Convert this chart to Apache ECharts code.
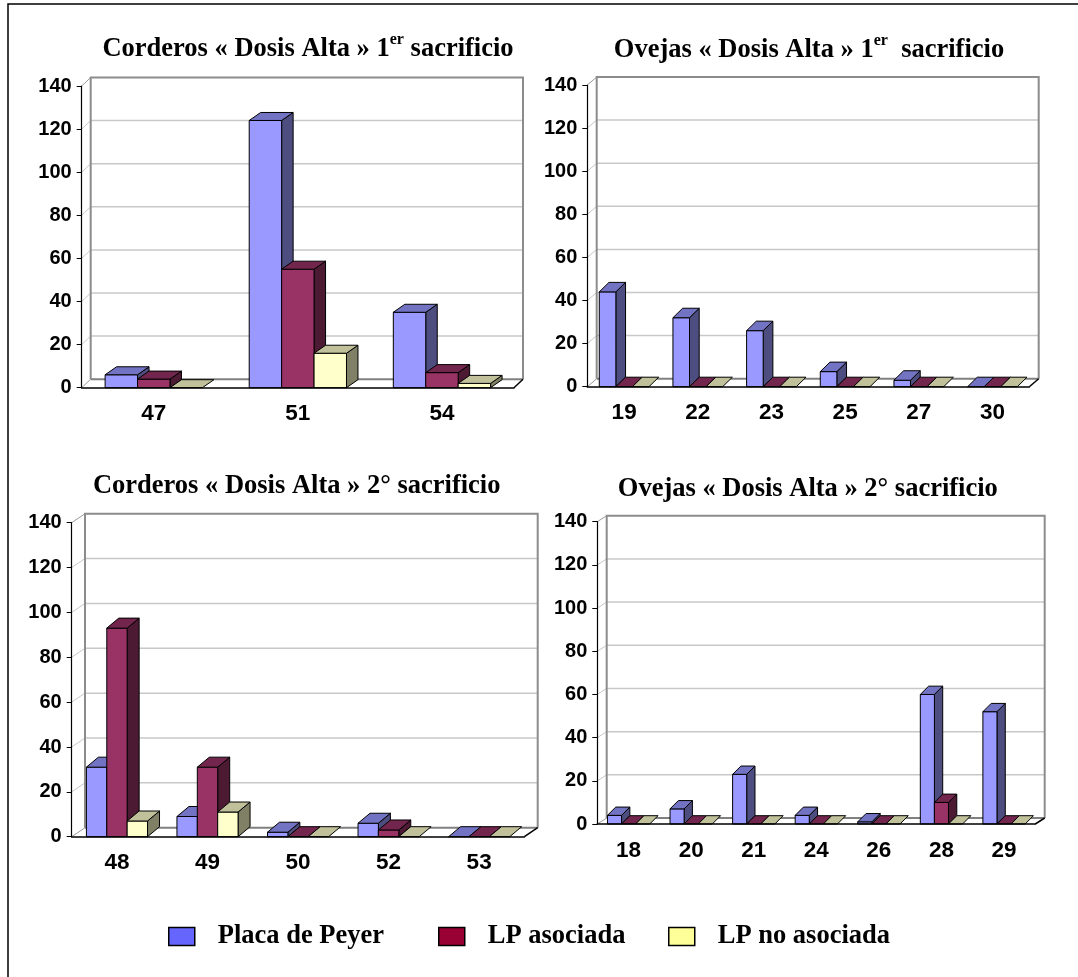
<!DOCTYPE html>
<html>
<head>
<meta charset="utf-8">
<script src="https://cdn.jsdelivr.net/npm/echarts@6/dist/echarts.min.js"></script>
<style>
  html, body { margin: 0; padding: 0; background: #fff; }
  #chart { width: 1078px; height: 977px; }
</style>
</head>
<body>
<div id="chart"></div>
<script>
// ---- data ----
const seriesNames = ['Placa de Peyer', 'LP asociada', 'LP no asociada'];

// Corderos « Dosis Alta » 1er sacrificio
const cordA1Cats = ['47', '51', '54'];
const cordA1Peyer = [6, 124, 35];
const cordA1LpAsoc = [4, 55, 7];
const cordA1LpNoAsoc = [0, 16, 2];

// Ovejas « Dosis Alta » 1er sacrificio
const ovejA1Cats = ['19', '22', '23', '25', '27', '30'];
const ovejA1Peyer = [44, 32, 26, 7, 3, 0];
const ovejA1LpAsoc = [0, 0, 0, 0, 0, 0];
const ovejA1LpNoAsoc = [0, 0, 0, 0, 0, 0];

// Corderos « Dosis Alta » 2° sacrificio
const cordA2Cats = ['48', '49', '50', '52', '53'];
const cordA2Peyer = [31, 9, 2, 6, 0];
const cordA2LpAsoc = [93, 31, 0, 3, 0];
const cordA2LpNoAsoc = [7, 11, 0, 0, 0];

// Ovejas « Dosis Alta » 2° sacrificio
const ovejA2Cats = ['18', '20', '21', '24', '26', '28', '29'];
const ovejA2Peyer = [4, 7, 23, 4, 1, 60, 52];
const ovejA2LpAsoc = [0, 0, 0, 0, 0, 10, 0];
const ovejA2LpNoAsoc = [0, 0, 0, 0, 0, 0, 0];

// value axis (shared by all four panels)
const yMin = 0, yMax = 140, yStep = 20;

// ---- styling ----
const SANS = '"Liberation Sans", Arial, sans-serif';
const SERIF = '"Liberation Serif", "Times New Roman", serif';

// front face / top face / side face for each series of 3D columns
const barColors = [
  { front: '#9999ff', top: '#7373c4', side: '#4d4d80' },
  { front: '#993366', top: '#73264d', side: '#4d1a33' },
  { front: '#ffffcc', top: '#c0c09a', side: '#808066' }
];
const legendColors = ['#6666ff', '#990033', '#ffff99'];
const legendLeft = [163, 433, 663];

const panels = [
  {
    title: { x: 308, y: 49, head: 'Corderos « Dosis Alta » 1', sup: 'er', tail: ' sacrificio' },
    cats: cordA1Cats, values: [cordA1Peyer, cordA1LpAsoc, cordA1LpNoAsoc],
    grid: { left: 81.7, top: 86, width: 432.3, height: 301.7 },
    wall: { dx: 9, dy: -8.5 }, bar: { dx: 11.5, dy: -8 }
  },
  {
    title: { x: 809, y: 50, head: 'Ovejas « Dosis Alta » 1', sup: 'er', tail: '  sacrificio' },
    cats: ovejA1Cats, values: [ovejA1Peyer, ovejA1LpAsoc, ovejA1LpNoAsoc],
    grid: { left: 587.3, top: 85, width: 442, height: 301.7 },
    wall: { dx: 9.4, dy: -8 }, bar: { dx: 9.7, dy: -9.5 }
  },
  {
    title: { x: 296.7, y: 486, head: 'Corderos « Dosis Alta » 2° sacrificio', sup: '', tail: '' },
    cats: cordA2Cats, values: [cordA2Peyer, cordA2LpAsoc, cordA2LpNoAsoc],
    grid: { left: 71.7, top: 522.7, width: 452.7, height: 314 },
    wall: { dx: 13.3, dy: -9 }, bar: { dx: 12, dy: -10 }
  },
  {
    title: { x: 807.8, y: 489, head: 'Ovejas « Dosis Alta » 2° sacrificio', sup: '', tail: '' },
    cats: ovejA2Cats, values: [ovejA2Peyer, ovejA2LpAsoc, ovejA2LpNoAsoc],
    grid: { left: 597.3, top: 521.7, width: 438, height: 302.3 },
    wall: { dx: 9.4, dy: -6 }, bar: { dx: 8.3, dy: -8.3 }
  }
];

// ---- 3D frame: back wall, side wall and floor ----
function frameRenderer(wall) {
  return function (params, api) {
    const cs = params.coordSys;
    const x = cs.x, y = cs.y, w = cs.width, h = cs.height;
    const dx = wall.dx, dy = wall.dy;
    const els = [];
    const line = (x1, y1, x2, y2, stroke, lw) =>
      els.push({ type: 'line', shape: { x1, y1, x2, y2 }, style: { stroke, lineWidth: lw } });
    for (let v = yMin + yStep; v < yMax; v += yStep) {
      const ty = api.coord([0, v])[1];
      line(x, ty, x + dx, ty + dy, '#c8c8c8', 1);
      line(x + dx, ty + dy, x + w + dx, ty + dy, '#c8c8c8', 1.5);
    }
    // back wall outline
    els.push({
      type: 'polyline',
      shape: { points: [[x + dx, y + h + dy], [x + dx, y + dy], [x + w + dx, y + dy], [x + w + dx, y + h + dy]] },
      style: { stroke: '#8c8c8c', lineWidth: 2, fill: null }
    });
    // floor
    line(x + dx, y + h + dy, x + w + dx, y + h + dy, '#808080', 2);
    line(x, y + h, x + dx, y + h + dy, '#9a9a9a', 1);
    line(x, y, x + dx, y + dy, '#9a9a9a', 1);
    line(x + w, y + h, x + w + dx, y + h + dy, '#000', 1.5);
    return { type: 'group', children: els, silent: true };
  };
}

// ---- 3D column for one series ----
function barRenderer(sIdx, depth) {
  const col = barColors[sIdx];
  return function (params, api) {
    const cat = api.value(0), val = api.value(1);
    const top = api.coord([cat, val]);
    const base = api.coord([cat, 0]);
    const band = api.size([1, 0])[0];
    const bw = band * 0.225;
    const x0 = top[0] + (sIdx - 1.5) * bw;
    const x1 = x0 + bw;
    const yT = top[1], yB = base[1];
    const dx = depth.dx, dy = depth.dy;
    const stroke = { stroke: '#000', lineWidth: 1, lineJoin: 'round' };
    const kids = [];
    if (yB - yT > 0.2) {
      kids.push({
        type: 'polygon',
        shape: { points: [[x1, yT], [x1 + dx, yT + dy], [x1 + dx, yB + dy], [x1, yB]] },
        style: Object.assign({ fill: col.side }, stroke)
      });
      kids.push({
        type: 'rect',
        shape: { x: x0, y: yT, width: bw, height: yB - yT },
        style: Object.assign({ fill: col.front }, stroke)
      });
    }
    kids.push({
      type: 'polygon',
      shape: { points: [[x0, yT], [x0 + dx, yT + dy], [x1 + dx, yT + dy], [x1, yT]] },
      style: Object.assign({ fill: col.top }, stroke)
    });
    return { type: 'group', children: kids };
  };
}

const yLabelFont = { fontFamily: SANS, fontWeight: 'bold', fontSize: 20, color: '#000' };
const xLabelFont = { fontFamily: SANS, fontWeight: 'bold', fontSize: 22.5, color: '#000' };

const grids = [], xAxes = [], yAxes = [], series = [], graphics = [];

panels.forEach((p, i) => {
  grids.push(Object.assign({ containLabel: false }, p.grid));
  xAxes.push({
    type: 'category', gridIndex: i, data: p.cats, z: 10,
    axisLine: { lineStyle: { color: '#000', width: 1.5 } },
    axisTick: { length: 5, lineStyle: { color: '#000', width: 1 } },
    axisLabel: Object.assign({ margin: 15 }, xLabelFont),
    splitLine: { show: false }
  });
  yAxes.push({
    type: 'value', gridIndex: i, min: yMin, max: yMax, interval: yStep, z: 10,
    axisLine: { show: true, lineStyle: { color: '#000', width: 1.2 } },
    axisTick: { show: true, length: 5, lineStyle: { color: '#000', width: 1 } },
    axisLabel: Object.assign({ margin: 10 }, yLabelFont),
    splitLine: { show: false }
  });
  series.push({
    type: 'custom', name: 'frame' + i, xAxisIndex: i, yAxisIndex: i, z: 1, silent: true,
    renderItem: frameRenderer(p.wall), data: [[0, 0]]
  });
  p.values.forEach((vals, s) => {
    series.push({
      type: 'custom', name: seriesNames[s], xAxisIndex: i, yAxisIndex: i, z: 2 + s,
      renderItem: barRenderer(s, p.bar),
      itemStyle: { color: legendColors[s] },
      data: vals.map((v, k) => [k, v])
    });
  });
  const t = p.title;
  let txt = '{m|' + t.head + '}';
  if (t.sup) txt += '{s|' + t.sup + '}{m|' + t.tail + '}';
  graphics.push({
    type: 'text', x: t.x, y: t.y, silent: true,
    style: {
      text: txt, textAlign: 'center', align: 'center',
      textVerticalAlign: 'middle', verticalAlign: 'middle',
      rich: {
        m: { fontFamily: SERIF, fontWeight: 'bold', fontSize: 26.5, lineHeight: 34, fill: '#000', color: '#000' },
        s: { fontFamily: SERIF, fontWeight: 'bold', fontSize: 16, lineHeight: 17, verticalAlign: 'top', fill: '#000', color: '#000' }
      }
    }
  });
});

// outer frame
graphics.push({
  type: 'polyline', silent: true,
  shape: { points: [[8, 977], [8, 4], [1078, 4]] },
  style: { stroke: '#000', lineWidth: 1.5, fill: null }
});

const legends = seriesNames.map((name, s) => ({
  data: [{ name, itemStyle: { color: legendColors[s], borderColor: '#000', borderWidth: 1.5 } }],
  left: legendLeft[s], top: 918, orient: 'horizontal',
  icon: 'rect', itemWidth: 26, itemHeight: 18, selectedMode: false,
  textStyle: { fontFamily: SERIF, fontWeight: 'bold', fontSize: 26.5, color: '#000', padding: [0, 0, 0, 18] }
}));

const chart = echarts.init(document.getElementById('chart'), null, { renderer: 'canvas' });
chart.setOption({
  backgroundColor: '#fff',
  animation: false,
  legend: legends,
  grid: grids,
  xAxis: xAxes,
  yAxis: yAxes,
  series: series,
  graphic: graphics
});
</script>
</body>
</html>
